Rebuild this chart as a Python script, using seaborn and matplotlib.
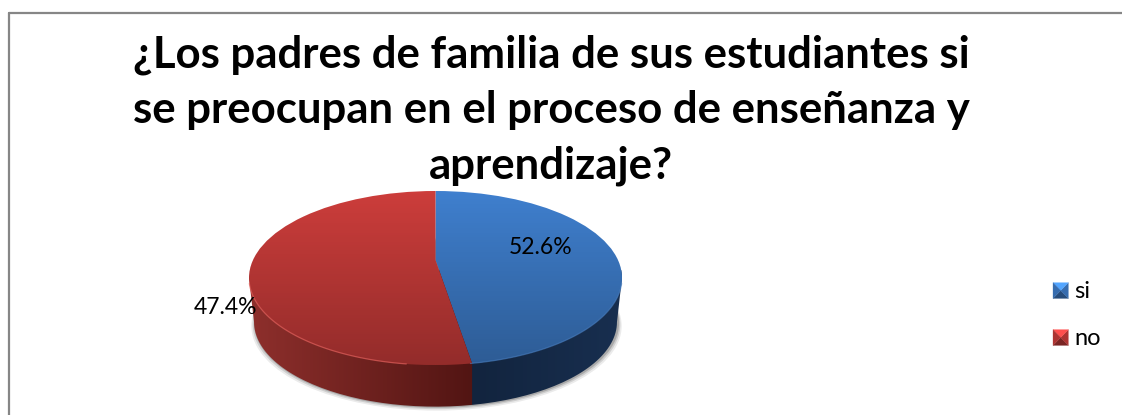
import numpy as np
import matplotlib
matplotlib.use("Agg")
import matplotlib.pyplot as plt
from matplotlib.lines import Line2D
from matplotlib.patches import Ellipse, PathPatch, Patch, Polygon
from matplotlib.path import Path
from matplotlib.colors import to_rgb
import seaborn as sns

# Datos
categorias = ["si", "no"]
etiquetas = ["52.6%", "47.4%"]
porciones = [47.4, 52.6]  # reparto visible de la torta en la imagen
titulo = ("¿Los padres de familia de sus estudiantes si\n"
          "se preocupan en el proceso de enseñanza y\n"
          "aprendizaje?")

sns.set_theme(style="white")
plt.rcParams["font.family"] = ["Lato", "DejaVu Sans"]

colores = sns.color_palette(["#3f7fce", "#cc3d3b"])

W, H = 1122, 415
cx, cy, rx, ry = 435.5, 278, 186.5, 87
apice = (278 - 260) / 87


def px(x):
    return (x - cx) / rx


def py(y):
    return (cy - y) / ry


fig = plt.figure(figsize=(W / 100, H / 100), dpi=100, facecolor="white")
ax = fig.add_axes([0, 0, 1, 1])

# Cara lateral de la torta
t = np.linspace(0, np.pi, 100)
x_sup, y_sup = np.cos(t), np.sin(t)
x_inf, y_inf = 0.973 * np.cos(t + np.pi), py(322) + 0.973 * np.sin(t + np.pi)
contorno = np.r_[np.c_[x_sup, y_sup], np.c_[x_inf, y_inf], [[x_sup[0], y_sup[0]]]]

# sombra suave debajo
for d, a in [(4, 0.08), (2.5, 0.12), (1.2, 0.18)]:
    ax.add_patch(Ellipse((px(436.5), py(322 + d)), 2 * 0.973 + 0.01 * d, 2 * 0.973,
                         color="black", alpha=a, lw=0, zorder=1))

ang = 2 * np.pi * porciones[0] / 100
dx, dy = np.sin(ang), np.cos(ang)
b = apice * dy
s = -b + np.sqrt(b ** 2 - (apice ** 2 - 1))
x_corte = s * dx

xs = np.linspace(px(250), px(625), 400)
rojo_izq, rojo_der = np.array(to_rgb("#8e2f2c")), np.array(to_rgb("#521513"))
azul_izq, azul_der = np.array(to_rgb("#12243e")), np.array(to_rgb("#182f50"))
franja = np.zeros((1, len(xs), 3))
for i, x in enumerate(xs):
    if x < x_corte:
        f = (x - xs[0]) / (x_corte - xs[0])
        franja[0, i] = rojo_izq * (1 - f) + rojo_der * f
    else:
        f = (x - x_corte) / (xs[-1] - x_corte)
        franja[0, i] = azul_izq * (1 - f) + azul_der * f
lado = PathPatch(Path(contorno), transform=ax.transData, fc="none", ec="none")
ax.add_patch(lado)
img = ax.imshow(franja, extent=(xs[0], xs[-1], py(420), py(270)), aspect="auto", zorder=2)
img.set_clip_path(lado)

# Cara superior
borde = Ellipse((0, 0), 2, 2, transform=ax.transData, fc="none", ec="none")
ax.add_patch(borde)
wedges, _ = ax.pie(porciones, colors=colores, startangle=90, counterclock=False,
                   center=(0, apice), radius=4, frame=True,
                   wedgeprops={"edgecolor": "none", "linewidth": 0})
for w in wedges:
    w.set_clip_on(True)
    w.set_clip_path(borde)
    w.set_zorder(3)

# Degradado vertical sobre la cara superior
sombra = np.zeros((200, 1, 4))
sombra[:, 0, 3] = np.linspace(0, 0.28, 200)
img2 = ax.imshow(sombra, extent=(-1, 1, -1, 1), aspect="auto", zorder=4)
img2.set_clip_path(borde)

# Brillo del borde inferior
t2 = np.linspace(np.pi * 1.02, np.pi * 1.45, 80)
ax.plot(np.cos(t2), np.sin(t2), color="#e0605c", lw=0.9, alpha=0.7, zorder=5)
t3 = np.linspace(np.pi * 1.56, np.pi * 1.98, 80)
ax.plot(np.cos(t3), np.sin(t3), color="#4a7fc0", lw=0.9, alpha=0.6, zorder=5)

# Etiquetas de porcentaje
ax.text(px(541), py(247), etiquetas[0], ha="center", va="center", fontsize=16.5,
        color="black", zorder=6)
ax.text(px(225), py(307), etiquetas[1], ha="center", va="center", fontsize=16.5,
        color="black", zorder=6)


# Cuadritos biselados de la leyenda
class Bisel:
    def legend_artist(self, legend, handle, fontsize, handlebox):
        x0, y0 = handlebox.xdescent, handlebox.ydescent
        w, h = handlebox.width, handlebox.height
        base = np.array(to_rgb(handle.get_facecolor()))
        m = (x0 + w / 2, y0 + h / 2)
        esquinas = [(x0, y0), (x0 + w, y0), (x0 + w, y0 + h), (x0, y0 + h)]
        tonos = [0.6, 0.85, 1.3, 0.85]
        for k in range(4):
            c = np.clip(base * tonos[k], 0, 1)
            p = Polygon([esquinas[k], esquinas[(k + 1) % 4], m], fc=c, ec=c, lw=0.2,
                        transform=handlebox.get_transform())
            handlebox.add_artist(p)
        return p


manijas = [Patch(facecolor=c, label=n) for c, n in zip(colores, categorias)]
ax.legend(handles=manijas, handler_map={Patch: Bisel()}, frameon=False, fontsize=17,
          loc="center left", bbox_to_anchor=(1053 / W, 1 - 315 / H),
          bbox_transform=fig.transFigure, handlelength=0.65, handleheight=0.65,
          handletextpad=0.26, labelspacing=1.1, borderaxespad=0, borderpad=0,
          labelcolor="black")

ax.set_xlim(px(0), px(W))
ax.set_ylim(py(H), py(0))
ax.set_aspect("auto")
ax.set_axis_off()

# Titulo
fig.text(551 / W, 1 - 110 / H, titulo, ha="center", va="center", fontsize=31.5,
         fontweight="bold", color="black", linespacing=1.46, zorder=10)

# Marco gris del grafico
for xx, yy in [([8.5, 8.5], [415, 13.5]), ([8.5, 1122], [13.5, 13.5])]:
    fig.add_artist(Line2D(np.array(xx) / W, 1 - np.array(yy) / H, color="#868686", lw=1.6))

fig.savefig("out.png", dpi=100)
